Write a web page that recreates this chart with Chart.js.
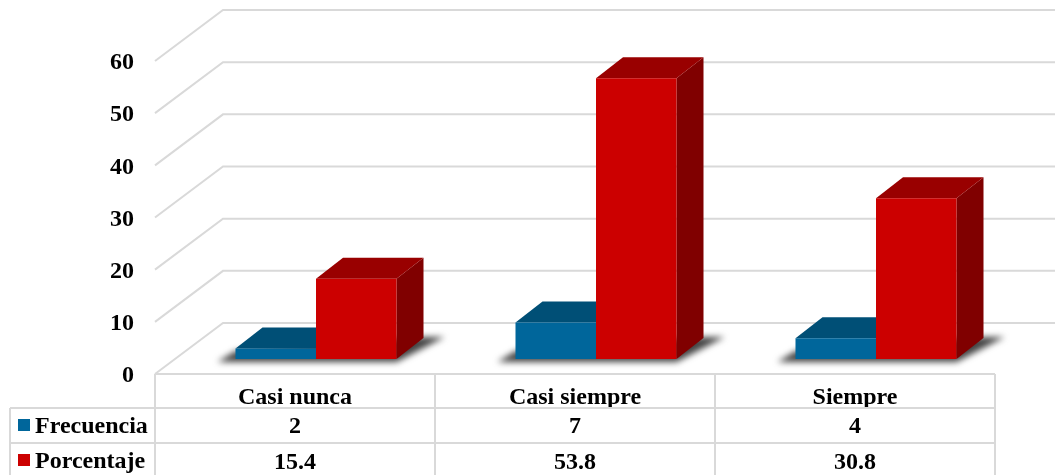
<!DOCTYPE html>
<html>
<head>
<meta charset="utf-8">
<script src="https://cdn.jsdelivr.net/npm/chart.js@4"></script>
<style>
  html, body { margin: 0; padding: 0; background: #fff; }
</style>
</head>
<body>
<canvas id="myBarChart" width="1055" height="475"></canvas>
<script>
// chart values
const categories = ['Casi nunca', 'Casi siempre', 'Siempre'];
const frecuencia = [2, 7, 4];
const porcentaje = [15.4, 53.8, 30.8];
const porcentajeLabels = ['15.4', '53.8', '30.8'];
const seriesNames = ['Frecuencia', 'Porcentaje'];
const yMax = 60;
const yStep = 10;

const gridColor = '#d9d9d9';
const fontName = '"Liberation Serif", "Times New Roman", serif';
const fontSize = 24;
const blue = { front: '#00669b', top: '#004f76', side: '#003d5c' };
const red = { front: '#cc0000', top: '#990000', side: '#800000' };

// depth of the bars, and of the floor relative to the bar plane
const barDepth = { x: 27, y: 21 };
const wallFront = { x: -21, y: 15 };
const wallBack = { x: 47, y: -36 };

// walls: diagonal + long line for every y tick
const walls3d = {
  id: 'walls3d',
  beforeDatasetsDraw(chart) {
    const { ctx, scales: { y } } = chart;
    ctx.save();
    ctx.strokeStyle = gridColor;
    ctx.lineWidth = 2;
    y.ticks.forEach(t => {
      const py = y.getPixelForValue(t.value);
      ctx.beginPath();
      ctx.moveTo(chart.chartArea.left + wallFront.x, py + wallFront.y);
      ctx.lineTo(chart.chartArea.left + wallBack.x, py + wallBack.y);
      ctx.lineTo(chart.width, py + wallBack.y);
      ctx.stroke();
    });
    ctx.restore();
  }
};

function poly(ctx, pts, color) {
  ctx.fillStyle = color;
  ctx.beginPath();
  pts.forEach((p, i) => i ? ctx.lineTo(p[0], p[1]) : ctx.moveTo(p[0], p[1]));
  ctx.closePath();
  ctx.fill();
}

// floor shadow + top and side of each bar, the library draws the fronts over it
const bars3d = {
  id: 'bars3d',
  beforeDatasetsDraw(chart) {
    const { ctx } = chart;
    const m0 = chart.getDatasetMeta(0).data;
    const m1 = chart.getDatasetMeta(1).data;
    ctx.save();
    m0.forEach((b, i) => {
      const l = b.x - b.width / 2;
      const r = m1[i].x + m1[i].width / 2;
      const base = b.base;
      ctx.save();
      ctx.filter = 'blur(3px)';
      poly(ctx, [[l - 18, base + 3], [r, base + 3], [r + 48, base - 22], [r + 27, base - 22], [l, base - 8]], '#444444');
      ctx.restore();
    });
    [[m0, blue], [m1, red]].forEach(([bars, c]) => {
      bars.forEach(b => {
        const l = b.x - b.width / 2;
        const r = b.x + b.width / 2;
        const d = barDepth;
        poly(ctx, [[r, b.y], [r + d.x, b.y - d.y], [r + d.x, b.base - d.y], [r, b.base]], c.side);
        poly(ctx, [[l, b.y], [l + d.x, b.y - d.y], [r + d.x, b.y - d.y], [r, b.y]], c.top);
      });
    });
    ctx.restore();
  }
};

// data table under the chart
const dataTable = {
  id: 'dataTable',
  afterDraw(chart) {
    const { ctx, scales: { x } } = chart;
    const step = x.getPixelForValue(1) - x.getPixelForValue(0);
    const centers = categories.map((c, i) => x.getPixelForValue(i) + wallFront.x);
    const left = centers[0] - step / 2;
    const right = centers[centers.length - 1] + step / 2;
    const rows = [374, 408, 443];
    const keyX = 10;
    ctx.save();
    ctx.strokeStyle = gridColor;
    ctx.lineWidth = 2;
    ctx.beginPath();
    ctx.moveTo(left, rows[0]); ctx.lineTo(right, rows[0]);
    ctx.moveTo(keyX, rows[1]); ctx.lineTo(right, rows[1]);
    ctx.moveTo(keyX, rows[2]); ctx.lineTo(right, rows[2]);
    ctx.moveTo(keyX, rows[1]); ctx.lineTo(keyX, 475);
    for (let i = 0; i <= centers.length; i++) {
      ctx.moveTo(left + i * step, rows[0]); ctx.lineTo(left + i * step, 475);
    }
    ctx.stroke();

    ctx.fillStyle = '#000';
    ctx.font = 'bold ' + fontSize + 'px ' + fontName;
    ctx.textBaseline = 'middle';
    ctx.textAlign = 'center';
    centers.forEach((c, i) => {
      ctx.fillText(String(frecuencia[i]), c, 427);
      ctx.fillText(porcentajeLabels[i], c, 463);
    });
    ctx.textAlign = 'left';
    ctx.fillText(seriesNames[0], 35, 427);
    ctx.fillText(seriesNames[1], 35, 462);
    ctx.fillStyle = blue.front;
    ctx.fillRect(18, 419, 12, 12);
    ctx.fillStyle = red.front;
    ctx.fillRect(18, 454, 12, 12);
    ctx.restore();
  }
};

const ctxBar = document.getElementById('myBarChart');
new Chart(ctxBar, {
  type: 'bar',
  data: {
    labels: categories,
    datasets: [
      { label: seriesNames[0], data: frecuencia, backgroundColor: blue.front, barPercentage: 1, categoryPercentage: 0.575 },
      { label: seriesNames[1], data: porcentaje, backgroundColor: red.front, barPercentage: 1, categoryPercentage: 0.575 }
    ]
  },
  options: {
    responsive: false,
    animation: false,
    layout: { autoPadding: false, padding: { top: 46, right: 39, left: 0, bottom: 0 } },
    plugins: { legend: { display: false }, tooltip: { enabled: false } },
    scales: {
      x: {
        grid: { display: false },
        border: { display: false },
        afterFit(s) { s.height = 116; },
        ticks: {
          color: '#000',
          maxRotation: 0,
          padding: 16,
          labelOffset: wallFront.x,
          font: { family: fontName, size: fontSize, weight: 'bold' }
        }
      },
      y: {
        min: 0,
        max: yMax,
        grid: { display: false },
        border: { display: false },
        afterFit(s) { s.width = 176; s.paddingTop = 0; s.paddingBottom = 0; },
        ticks: {
          stepSize: yStep,
          color: '#000',
          padding: 34,
          labelOffset: 17,
          font: { family: fontName, size: fontSize, weight: 'bold' }
        }
      }
    }
  },
  plugins: [walls3d, bars3d, dataTable]
});
</script>
</body>
</html>
